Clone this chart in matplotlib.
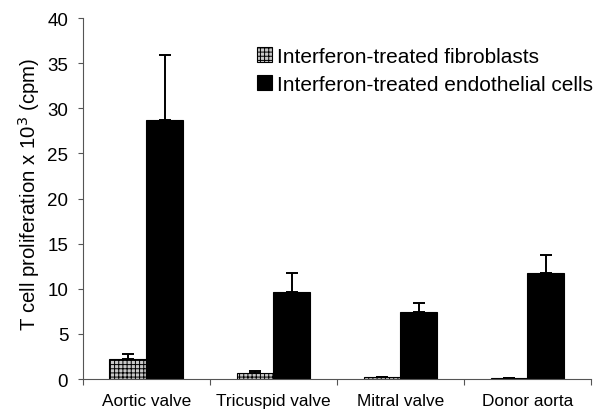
import numpy as np
import matplotlib
matplotlib.use('Agg')
import matplotlib.pyplot as plt

plt.rcParams['font.family'] = ['Liberation Sans', 'DejaVu Sans']
plt.rcParams['hatch.linewidth'] = 0.7

# data
tissues = ['Aortic valve', 'Tricuspid valve', 'Mitral valve', 'Donor aorta']
fibro = [2.2, 0.65, 0.25, 0.1]
fibro_err = [0.6, 0.2, 0.0, 0.0]
endo = [28.7, 9.6, 7.4, 11.7]
endo_err = [7.2, 2.1, 1.0, 2.1]

fig = plt.figure(figsize=(6, 4.14), dpi=100)
ax = fig.add_axes([0.138, 0.082, 0.847, 0.872])

x = np.arange(len(tissues))
barWidth = 0.29
err_style = dict(ecolor='black', capsize=4, elinewidth=1.4, capthick=1.4)

ax.bar(x - barWidth / 2, fibro, width=barWidth, color='#c8c8c8', edgecolor='black',
       linewidth=0.8, hatch='++++', label='Interferon-treated fibroblasts',
       yerr=[[0] * 4, fibro_err], error_kw=err_style)
ax.bar(x + barWidth / 2, endo, width=barWidth, color='black', edgecolor='black',
       linewidth=0.8, label='Interferon-treated endothelial cells',
       yerr=[[0] * 4, endo_err], error_kw=err_style)

ax.set_xlim(-0.5, 3.5)
ax.set_ylim(0, 40)
ax.set_yticks(np.arange(0, 41, 5))
ax.set_xticks(x)
ax.set_xticklabels(tissues, fontsize=12.4)
ax.set_xticks(np.arange(-0.5, 4, 1), minor=True)
ax.tick_params(axis='x', which='major', length=0, pad=10)
ax.tick_params(axis='x', which='minor', length=4, width=0.8, color='#555555')
ax.tick_params(axis='y', length=3.5, width=0.8, color='#555555', labelsize=13.5, pad=7)

ax.spines['top'].set_visible(False)
ax.spines['right'].set_visible(False)
ax.spines['left'].set_color('#555555')
ax.spines['bottom'].set_color('#555555')

ax.set_ylabel('T cell proliferation x 10$^3$ (cpm)', fontsize=14.7)
ax.yaxis.set_label_coords(-0.081, 0.514)

ax.legend(loc='upper left', bbox_to_anchor=(0.326, 0.943), borderaxespad=0, frameon=False,
          fontsize=15, handlelength=0.72, handleheight=0.72, handletextpad=0.25, labelspacing=0.42)

plt.savefig('out.png', dpi=100)
plt.close('all')
